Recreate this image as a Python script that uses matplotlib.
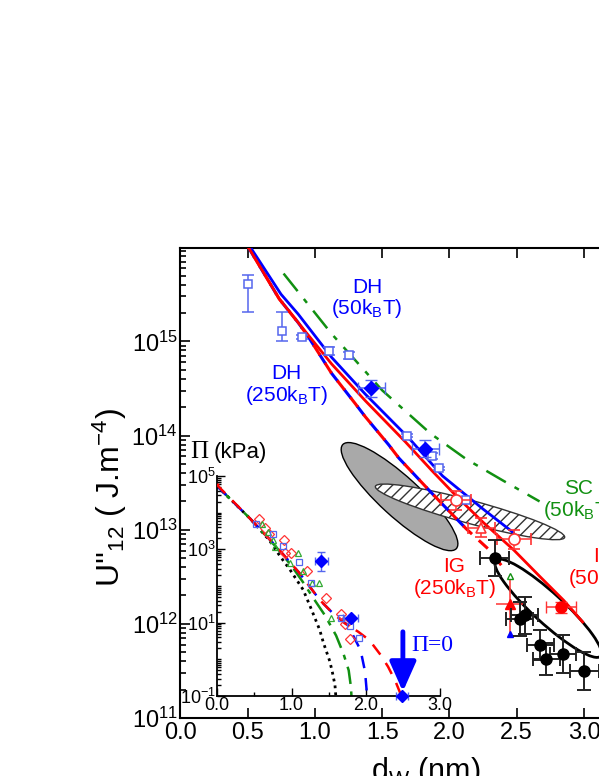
import numpy as np
import matplotlib
matplotlib.use('Agg')
import matplotlib.pyplot as plt
from matplotlib.patches import Ellipse
from matplotlib import transforms
from matplotlib.ticker import FixedLocator, LogLocator, NullFormatter, MultipleLocator, FormatStrFormatter

plt.rcParams['font.family'] = ['Liberation Sans', 'DejaVu Sans']
plt.rcParams['mathtext.fontset'] = 'custom'
plt.rcParams['mathtext.rm'] = 'Liberation Sans'
plt.rcParams['mathtext.it'] = 'Liberation Sans:italic'
plt.rcParams['mathtext.default'] = 'regular'
plt.rcParams['hatch.linewidth'] = 1.0

BLUE = '#0000ff'
RED = '#ff0000'
GREEN = '#119011'

# ---- main panel: curves (x in nm, log10 of U'') ----
dh50_x = [0.52, 0.748, 0.875, 1.124, 1.374, 1.70, 1.949, 2.249, 2.474]
dh50_ly = [16.0, 15.5, 15.29, 14.83, 14.44, 13.97, 13.57, 13.22, 12.97]
ig50_x = [0.505, 0.735, 0.875, 1.124, 1.374, 1.674, 1.874, 2.049, 2.249, 2.481, 2.674, 2.849, 2.99]
ig50_ly = [16.0, 15.45, 15.2, 14.76, 14.37, 13.93, 13.62, 13.36, 13.08, 12.78, 12.50, 12.25, 12.02]
d250_x = [0.505, 0.735, 0.875, 0.95, 1.124, 1.299, 1.374, 1.549, 1.624, 1.874, 2.124]
d250_ly = [16.0, 15.45, 15.2, 15.05, 14.66, 14.34, 14.20, 13.90, 13.76, 13.38, 13.01]
ig250_x = d250_x + [2.30, 2.424]
ig250_ly = d250_ly + [12.78, 12.55]
sc50_x = [0.767, 1.124, 1.5, 1.86, 2.124, 2.40, 2.67]
sc50_ly = [15.72, 15.08, 14.48, 14.02, 13.75, 13.52, 13.30]

# ---- main panel: data points ----
sq_x = [0.50, 0.755, 0.905, 1.107, 1.257, 1.687, 1.867, 1.919, 2.124]
sq_ly = [15.61, 15.115, 15.045, 14.90, 14.85, 14.00, 13.78, 13.65, 13.32]
sq_lo = [0.30, 0.115, 0.02, 0.04, 0.04, 0.02, 0.03, 0.02, 0.02]
sq_hi = [0.09, 0.195, 0.02, 0.04, 0.04, 0.02, 0.03, 0.02, 0.02]

dia_x = [1.419, 1.819]
dia_ly = [14.50, 13.86]

rco_x = [2.049, 2.481]
rco_ly = [13.31, 12.90]
rco_xe = [0.11, 0.125]

rto_x = [2.236]
rto_ly = [13.02]

rcf_x = [2.829]
rcf_ly = [12.175]

rtf_x = [2.449]
rtf_ly = [12.21]
rtf_top = [12.51]
rtf_bot = [11.89]

blk_x = [2.336, 2.524, 2.561, 2.674, 2.719, 2.844, 3.003]
blk_ly = [12.70, 12.05, 12.09, 11.775, 11.63, 11.68, 11.50]
blk_xe = [0.11, 0.10, 0.10, 0.10, 0.10, 0.10, 0.11]
blk_ye = [0.19, 0.18, 0.20, 0.16, 0.17, 0.20, 0.20]

# ellipses: centre (x, log10 y), length and width in px, angle in deg
ell_gray = (1.629, 13.351, 154, 40, -42.5)
ell_hatch = (2.153, 13.189, 196, 23, -15.1)
ell_black = (2.734, 12.166, 142, 30, -42.5)

# ---- inset: pressure curves (x in nm, log10 of Pi in kPa) ----
in_red_x = [0.0, 0.013, 0.441, 0.798, 1.112, 1.38, 1.55, 1.72, 1.90, 2.05, 2.20, 2.30, 2.40, 2.46, 2.49]
in_red_ly = [5.1, 4.72, 3.84, 3.07, 2.34, 1.62, 1.27, 0.98, 0.75, 0.52, 0.12, -0.2, -0.6, -0.9, -1.1]
in_blue_x = [0.0, 0.441, 0.798, 1.112, 1.38, 1.56, 1.76, 1.93, 1.99, 2.01, 2.015]
in_blue_ly = [4.72, 3.84, 3.07, 2.34, 1.62, 1.25, 0.93, 0.25, -0.33, -0.8, -1.1]
in_green_x = [0.0, 0.441, 0.798, 1.0, 1.156, 1.30, 1.45, 1.60, 1.70, 1.77, 1.80, 1.81]
in_green_ly = [4.72, 3.84, 3.05, 2.55, 2.1, 1.65, 1.2, 0.65, 0.15, -0.3, -0.75, -1.1]
in_blk_x = [0.0, 0.441, 0.70, 0.85, 0.977, 1.156, 1.25, 1.38, 1.43, 1.515, 1.55, 1.585, 1.60]
in_blk_ly = [4.72, 3.84, 3.25, 2.8, 2.45, 1.9, 1.45, 0.8, 0.45, -0.05, -0.35, -0.7, -1.1]

in_rd_x = [0.565, 0.641, 0.699, 0.897, 0.910, 0.991, 1.202, 1.470, 1.672, 1.716, 1.793]
in_rd_ly = [3.82, 3.57, 3.41, 3.25, 2.90, 2.89, 2.41, 1.66, 1.25, 0.96, 0.545]
in_gt_x = [0.597, 0.686, 0.753, 0.776, 0.977, 1.089, 1.156, 1.269, 1.367, 1.538]
in_gt_ly = [3.69, 3.48, 3.25, 3.07, 2.62, 2.90, 2.41, 2.07, 2.07, 1.12]
in_bs_x = [0.52, 0.754, 0.887, 1.098, 1.259, 1.672, 1.784, 1.905]
in_bs_ly = [3.69, 3.41, 3.09, 2.66, 2.08, 1.12, 0.91, 0.57]
in_dia_x = [1.403, 1.797, 2.49]
in_dia_ly = [2.68, 1.14, -1.0]
in_dia_xe = [0.09, 0.10, 0.08]
in_dia_ye = [0.26, 0.05, 0.0]


def p10(v):
    return 10.0 ** np.asarray(v, dtype=float)


def yerr_of(ly, lo, hi):
    ly = np.asarray(ly, float)
    return [p10(ly) - p10(ly - np.asarray(lo)), p10(ly + np.asarray(hi)) - p10(ly)]


fig = plt.figure(figsize=(5.99, 7.76), dpi=100)
ax = fig.add_axes([180.4 / 599, 1 - 718 / 776, 491 / 599, 470 / 776])

# ellipses
def add_ell(a, e, **kw):
    cx, cly, L, W, ang = e
    tr = fig.dpi_scale_trans + transforms.ScaledTranslation(cx, 10 ** cly, a.transData)
    a.add_patch(Ellipse((0, 0), L / 100, W / 100, angle=ang, transform=tr, **kw))

add_ell(ax, ell_gray, facecolor='#a9a9a9', edgecolor='black', lw=1.0, zorder=1)
add_ell(ax, ell_hatch, facecolor='white', edgecolor='#333333', hatch='///', lw=1.0, zorder=1.5)
add_ell(ax, ell_black, facecolor='none', edgecolor='black', lw=2.0, zorder=1.5)

# curves (dashed ones under the solid ones, where they overlap the solid red wins)
ax.plot(d250_x, p10(d250_ly), color=BLUE, lw=2.2, ls=(0, (4, 3)), zorder=2.5)
ax.plot(ig250_x, p10(ig250_ly), color=RED, lw=2.2, ls=(3.5, (4, 3)), zorder=2.6)
ax.plot(sc50_x, p10(sc50_ly), color=GREEN, lw=1.8, ls=(0, (9, 4, 2, 4)), zorder=3)
ax.plot(dh50_x, p10(dh50_ly), color=BLUE, lw=2.0, zorder=3)
ax.plot(ig50_x, p10(ig50_ly), color=RED, lw=2.0, zorder=3.1)

# data points
lb = '#5566ee'
ax.errorbar(sq_x, p10(sq_ly), yerr=yerr_of(sq_ly, sq_lo, sq_hi), fmt='s', ms=6, mfc='white',
            mec=lb, mew=1.1, ecolor=lb, elinewidth=1.1, capsize=4, capthick=1.1, zorder=4)
ax.errorbar(dia_x, p10(dia_ly), xerr=0.1, yerr=yerr_of(dia_ly, [0.09] * 2, [0.09] * 2), fmt='D',
            ms=7, color=BLUE, ecolor=lb, elinewidth=1.1, capsize=4, zorder=5)
lr = '#ff3333'
ax.errorbar(rco_x, p10(rco_ly), xerr=rco_xe, yerr=yerr_of(rco_ly, [0.1] * 2, [0.1] * 2), fmt='o',
            ms=8, mfc='white', mec=lr, mew=1.2, ecolor=lr, elinewidth=1.1, capsize=4, zorder=5)
ax.errorbar(rto_x, p10(rto_ly), xerr=0.1, yerr=yerr_of(rto_ly, [0.1], [0.1]), fmt='^',
            ms=7, mfc='white', mec=lr, mew=1.2, ecolor=lr, elinewidth=1.1, capsize=4, zorder=5)
ax.errorbar(rcf_x, p10(rcf_ly), xerr=0.11, yerr=yerr_of(rcf_ly, [0.06], [0.06]), fmt='o',
            ms=8, color=RED, ecolor=lr, elinewidth=1.1, capsize=4, zorder=5)
ax.errorbar(rtf_x, p10(rtf_ly), xerr=0.1,
            yerr=[p10(rtf_ly) - p10(rtf_bot), p10(rtf_top) - p10(rtf_ly)], fmt='^',
            ms=7, color=RED, ecolor=lr, elinewidth=1.1, capsize=0, zorder=5)
ax.plot(rtf_x, p10(rtf_top), '^', ms=5, mfc='white', mec=GREEN, mew=1.0, zorder=6)
ax.plot(rtf_x, p10(rtf_bot), '^', ms=5, color=BLUE, zorder=6)
ax.errorbar(blk_x, p10(blk_ly), xerr=blk_xe, yerr=yerr_of(blk_ly, blk_ye, blk_ye), fmt='o',
            ms=8, color='black', ecolor='#222222', elinewidth=1.4, capsize=5, capthick=1.4, zorder=6)

# labels on curves
tk = dict(fontsize=15, ha='center', va='center', linespacing=1.05, zorder=7)
ax.text(1.387, 10 ** 15.45, 'DH\n(50k$_B$T)', color=BLUE, **tk)
ax.text(0.787, 10 ** 14.53, 'DH\n(250k$_B$T)', color=BLUE, **tk)
ax.text(2.96, 10 ** 13.31, 'SC\n(50k$_B$T)', color=GREEN, **tk)
ax.text(2.035, 10 ** 12.485, 'IG\n(250k$_B$T)', color=RED, **tk)
ax.text(3.15, 10 ** 12.59, 'IG\n(50k$_B$T)', color=RED, **tk)

ax.set_yscale('log')
ax.set_xlim(0, 3.65)
ax.set_ylim(1e11, 9.8e15)
ax.xaxis.set_major_locator(MultipleLocator(0.5))
ax.xaxis.set_major_formatter(FormatStrFormatter('%.1f'))
ax.yaxis.set_major_locator(LogLocator(base=10))
ax.yaxis.set_minor_locator(LogLocator(base=10, subs=np.arange(2, 10)))
ax.yaxis.set_minor_formatter(NullFormatter())
ax.tick_params(which='both', direction='in', top=True, right=True, width=1.2)
ax.tick_params(which='major', length=7, labelsize=17, pad=3)
ax.tick_params(axis='y', which='major', pad=2)
ax.tick_params(which='minor', length=4)
for s in ax.spines.values():
    s.set_linewidth(1.5)
ax.set_ylabel("U''$_{12}$ ( J.m$^{-4}$)", fontsize=23)
ax.yaxis.set_label_coords(-0.105, 0.47)
ax.set_xlabel('d$_W$ (nm)', fontsize=22, labelpad=8)

# ---- inset ----
ai = fig.add_axes([217.3 / 599, 1 - 696 / 776, 222.7 / 599, 220 / 776])
ai.patch.set_alpha(0)
ai.spines['top'].set_visible(False)
ai.spines['right'].set_visible(False)
for s in ('left', 'bottom'):
    ai.spines[s].set_linewidth(1.3)

ai.plot(in_blk_x, p10(in_blk_ly), color='black', lw=2.0, ls=(0, (1, 1.5)), zorder=2)
ai.plot(in_green_x, p10(in_green_ly), color=GREEN, lw=1.8, ls=(0, (7, 3, 2, 3)), zorder=2.2)
ai.plot(in_blue_x, p10(in_blue_ly), color=BLUE, lw=1.8, ls=(0, (5, 4)), zorder=2.4)
ai.plot(in_red_x, p10(in_red_ly), color=RED, lw=1.8, ls=(4.5, (5, 4)), zorder=2.6)

ai.plot(in_rd_x, p10(in_rd_ly), 'D', ms=5, mfc='none', mec=lr, mew=0.9, zorder=3)
ai.plot(in_gt_x, p10(in_gt_ly), '^', ms=5, mfc='none', mec='#33aa33', mew=0.9, zorder=3)
ai.plot(in_bs_x, p10(in_bs_ly), 's', ms=5, mfc='none', mec=lb, mew=0.9, zorder=3)
ai.errorbar(in_dia_x, p10(in_dia_ly), xerr=in_dia_xe,
            yerr=yerr_of(in_dia_ly, in_dia_ye, in_dia_ye), fmt='D', ms=6, color=BLUE,
            ecolor=lb, elinewidth=1.0, capsize=3, zorder=4, clip_on=False)

ai.annotate('', xy=(2.5, 10 ** -0.88), xytext=(2.5, 10 ** 0.75),
            arrowprops=dict(arrowstyle='-|>,head_length=0.9,head_width=0.4', lw=3.5,
                            color=BLUE, mutation_scale=20, shrinkA=0, shrinkB=0),
            annotation_clip=False, zorder=5)
ai.text(2.61, 10 ** 0.39, '\u03a0=0', color=BLUE, fontsize=17, family='Liberation Serif',
        ha='left', va='center', clip_on=False)

ai.set_yscale('log')
ai.set_xlim(0, 3.0)
ai.set_ylim(1e-1, 1e5)
ai.xaxis.set_major_locator(FixedLocator([0, 1, 2, 3]))
ai.xaxis.set_minor_locator(MultipleLocator(0.5))
ai.xaxis.set_major_formatter(FormatStrFormatter('%.1f'))
ai.yaxis.set_major_locator(FixedLocator([1e-1, 1e1, 1e3, 1e5]))
ai.yaxis.set_minor_locator(LogLocator(base=10, subs=np.arange(1, 10)))
ai.yaxis.set_minor_formatter(NullFormatter())
ai.tick_params(which='both', direction='in', width=1.0)
ai.tick_params(which='major', length=6, labelsize=13, pad=1)
ai.tick_params(which='minor', length=3)

fig.text(190 / 599, 1 - 452 / 776, '\u03a0', fontsize=18, family='Liberation Serif',
         ha='left', va='center')
fig.text(214 / 599, 1 - 452 / 776, '(kPa)', fontsize=16, ha='left', va='center')

fig.savefig('out.png', dpi=100)
